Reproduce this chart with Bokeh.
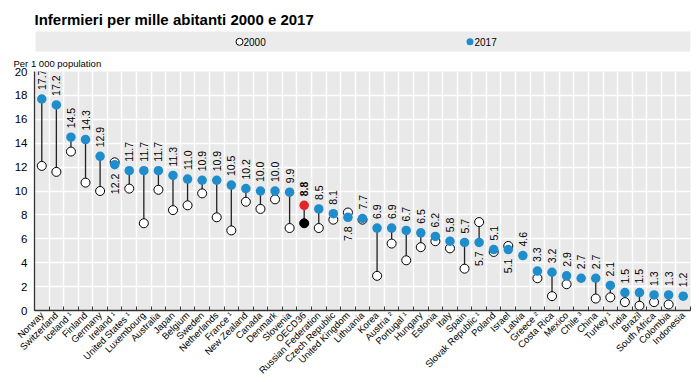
import math
from bokeh.plotting import figure
from bokeh.models import Range1d, FixedTicker, ColumnDataSource
from bokeh.layouts import column
from bokeh.embed import file_html
from bokeh.resources import INLINE
from bokeh.core.properties import value

# ---------------- data ----------------
title_text = "Infermieri per mille abitanti 2000 e 2017"
y_unit_text = "Per 1 000 population"
legend_labels = ["2000", "2017"]

countries = [
    "Norway", "Switzerland", "Iceland \u00b9", "Finland", "Germany", "Ireland \u00b9",
    "United States \u00b9", "Luxembourg", "Australia", "Japan", "Belgium", "Sweden",
    "Netherlands", "France \u00b9", "New Zealand", "Canada", "Denmark", "Slovenia",
    "OECD36", "Russian Federation", "Czech Republic", "United Kingdom", "Lithuania",
    "Korea", "Austria \u00b2", "Portugal \u00b9", "Hungary", "Estonia", "Italy", "Spain",
    "Slovak Republic \u00b9", "Poland", "Israel", "Latvia", "Greece \u00b2", "Costa Rica",
    "Mexico", "Chile \u00b3", "China", "Turkey \u00b9", "India", "Brazil", "South Africa",
    "Colombia", "Indonesia",
]

v2017 = [
    17.7, 17.2, 14.5, 14.3, 12.9, 12.2,
    11.7, 11.7, 11.7, 11.3, 11.0, 10.9,
    10.9, 10.5, 10.2, 10.0, 10.0, 9.9,
    8.8, 8.5, 8.1, 7.8, 7.7,
    6.9, 6.9, 6.7, 6.5, 6.2, 5.8, 5.7,
    5.7, 5.1, 5.1, 4.6, 3.3, 3.2,
    2.9, 2.7, 2.7, 2.1, 1.5, 1.5, 1.3,
    1.3, 1.2,
]

NAN = float("nan")
v2000 = [
    12.1, 11.6, 13.3, 10.7, 10.0, 12.4,
    10.2, 7.3, 10.1, 8.4, 8.8, 9.8,
    7.8, 6.7, 9.1, 8.5, 9.3, 6.9,
    7.3, 6.9, 7.6, 8.2, 7.6,
    2.9, 5.6, 4.2, 5.3, 5.8, 5.2, 3.5,
    7.4, 4.9, 5.4, NAN, 2.7, 1.2,
    2.2, NAN, 1.0, 1.1, 0.7, 0.4, 0.7,
    0.5, NAN,
]

y_ticks = [0, 2, 4, 6, 8, 10, 12, 14, 16, 18, 20]

# ---------------- styles ----------------
FONT = "Liberation Sans"
BLUE = "#1f8ccb"
RED = "#e3242b"
PANEL = "#e9e9e9"
DARK = "#333333"
W = 699
HH = 52
HM = 330
n = len(countries)
xs = list(range(n))

# ---------------- header (title + legend band) ----------------
hdr = figure(width=W, height=HH, frame_height=HH, x_range=Range1d(34, 690),
             y_range=Range1d(HH, 0), x_axis_type=None, y_axis_type=None,
             output_backend="svg", toolbar_location=None, title=None,
             min_border_left=34, min_border_right=9, min_border_top=0, min_border_bottom=0)
hdr.outline_line_color = None
hdr.grid.visible = False
hdr.background_fill_color = "white"
hdr.border_fill_color = "white"

hdr.text(x=[34], y=[18.7], text=[title_text], text_font=value(FONT),
         text_font_size="15px", text_font_style="bold", text_align="left",
         text_baseline="alphabetic", text_color="#000000")
hdr.quad(left=[35], right=[690], top=[31], bottom=[51], fill_color="#ebebeb",
         line_color=None)
hdr.scatter(x=[239], y=[41.3], size=7, marker="circle", fill_color="white",
            line_color="#000000", line_width=1)
hdr.scatter(x=[469.5], y=[41.3], size=7, marker="circle", fill_color=BLUE, line_color=None)
hdr.text(x=[243, 474], y=[41.3, 41.3], text=legend_labels, text_font=value(FONT),
         text_font_size="10px", text_align="left", text_baseline="middle",
         text_color="#000000")

# ---------------- main chart ----------------
p = figure(width=W, height=HM, x_range=Range1d(-0.5, n - 0.5), y_range=Range1d(0, 20),
           output_backend="svg", toolbar_location=None, title=y_unit_text,
           min_border_left=34, min_border_right=9, min_border_top=17, min_border_bottom=71)
p.title.align = "left"
p.title.offset = -21
p.title.standoff = 6
p.title.text_font = FONT
p.title.text_font_size = "9.5px"
p.title.text_font_style = "normal"
p.title.text_color = "#000000"
p.background_fill_color = PANEL
p.border_fill_color = "white"
p.outline_line_color = None

p.xgrid.ticker = FixedTicker(ticks=[i + 0.5 for i in range(-1, n)])
p.ygrid.ticker = FixedTicker(ticks=y_ticks)
p.grid.grid_line_color = "white"
p.grid.grid_line_width = 1.5

p.yaxis.ticker = FixedTicker(ticks=y_ticks)
p.yaxis.major_tick_out = 0
p.yaxis.major_tick_in = 0
p.yaxis.minor_tick_line_color = None
p.yaxis.major_label_standoff = 7
p.yaxis.major_label_text_font = FONT
p.yaxis.major_label_text_font_size = "11.5px"
p.yaxis.major_label_text_color = "#000000"
p.yaxis.axis_line_color = DARK
p.yaxis.axis_line_width = 1.3

p.xaxis.ticker = FixedTicker(ticks=xs, minor_ticks=[i + 0.5 for i in range(-1, n)])
p.xaxis.major_label_overrides = {i: c for i, c in enumerate(countries)}
p.xaxis.major_label_orientation = math.pi / 4
p.xaxis.major_tick_out = 0
p.xaxis.major_tick_in = 0
p.xaxis.major_tick_line_color = None
p.xaxis.minor_tick_in = 4
p.xaxis.minor_tick_out = 0
p.xaxis.minor_tick_line_color = DARK
p.xaxis.major_label_standoff = 3
p.xaxis.major_label_text_font = FONT
p.xaxis.major_label_text_font_size = "9.5px"
p.xaxis.major_label_text_color = "#000000"
p.xaxis.axis_line_color = DARK
p.xaxis.axis_line_width = 1.3

is_oecd = [c == "OECD36" for c in countries]
fill2000 = ["#000000" if o else "white" for o in is_oecd]
fill2017 = [RED if o else BLUE for o in is_oecd]

src = ColumnDataSource(dict(x=xs, a=v2000, b=v2017, f0=fill2000, f1=fill2017))
p.segment(x0="x", y0="a", x1="x", y1="b", source=src, line_color="#222222", line_width=1.3)
p.scatter(x="x", y="a", source=src, size=9, marker="circle", fill_color="f0",
          line_color="#000000", line_width=1)
p.scatter(x="x", y="b", source=src, size=9.5, marker="circle", fill_color="f1",
          line_color=None)

above = dict(x=[], y=[], t=[])
below = dict(x=[], y=[], t=[])
bold = dict(x=[], y=[], t=[])
for i, (a, b) in enumerate(zip(v2000, v2017)):
    lab = "%.1f" % b
    if is_oecd[i]:
        bold["x"].append(i); bold["y"].append(b); bold["t"].append(lab)
    elif (not math.isnan(a)) and a > b:
        below["x"].append(i); below["y"].append(b); below["t"].append(lab)
    else:
        above["x"].append(i); above["y"].append(b); above["t"].append(lab)

common = dict(angle=math.pi / 2, text_font=value(FONT), text_font_size="10.5px",
              text_baseline="middle", text_color="#000000")
p.text(x="x", y="y", text="t", source=ColumnDataSource(above), text_align="left",
       y_offset=-9, **common)
p.text(x="x", y="y", text="t", source=ColumnDataSource(below), text_align="right",
       y_offset=9, **common)
p.text(x="x", y="y", text="t", source=ColumnDataSource(bold), text_align="left",
       y_offset=-9, text_font_style="bold", **common)

layout = column(hdr, p, spacing=0)
open("out.html", "w").write(file_html(layout, INLINE))
